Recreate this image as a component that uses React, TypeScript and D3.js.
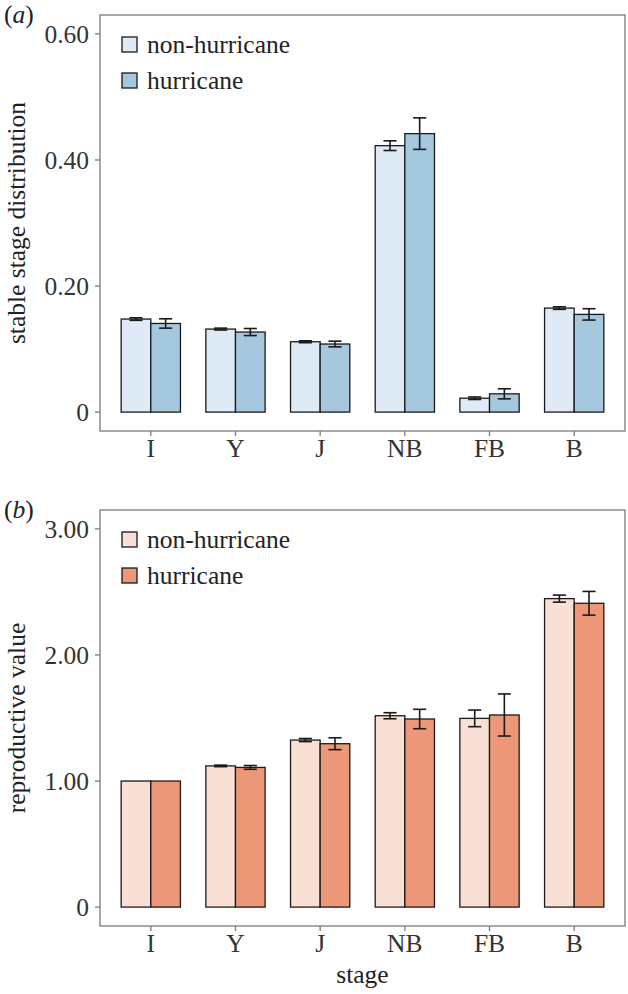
import React from "react";
import * as d3 from "d3";

const stages = ["I", "Y", "J", "NB", "FB", "B"];
const seriesNames = ["non-hurricane", "hurricane"];

const ssdNon = [0.1476, 0.1317, 0.1116, 0.4227, 0.022, 0.165];
const ssdNonErr = [0.002, 0.0015, 0.0015, 0.0077, 0.002, 0.002];
const ssdHur = [0.1406, 0.127, 0.108, 0.4418, 0.029, 0.155];
const ssdHurErr = [0.0074, 0.0056, 0.0045, 0.025, 0.008, 0.009];
const ssdTicks = [0, 0.2, 0.4, 0.6];
const ssdTickLabels = ["0", "0.20", "0.40", "0.60"];

const rvNon = [1.0, 1.12, 1.325, 1.518, 1.497, 2.447];
const rvNonErr = [0, 0.006, 0.012, 0.024, 0.066, 0.028];
const rvHur = [1.0, 1.108, 1.296, 1.492, 1.524, 2.41];
const rvHurErr = [0, 0.015, 0.047, 0.077, 0.167, 0.094];
const rvTicks = [0, 1, 2, 3];
const rvTickLabels = ["0", "1.00", "2.00", "3.00"];

const FONT = "'Liberation Serif', 'Times New Roman', serif";
const FS = 25.5;

type PanelProps = {
  top: number;
  bottom: number;
  max: number;
  ticks: number[];
  tickLabels: string[];
  non: number[];
  nonErr: number[];
  hur: number[];
  hurErr: number[];
  colors: [string, string];
  yTitle: string;
  tag: string;
  xTitle?: string;
};

function Panel(p: PanelProps) {
  const left = 100;
  const right = 625;
  const x = d3.scaleBand<string>().domain(stages).range([left, right]).paddingInner(0).paddingOuter(0.1);
  const y = d3.scaleLinear().domain([-0.05 * p.max, 1.05 * p.max]).range([p.bottom, p.top]);
  const step = x.step();
  const barW = (0.7 * step) / 2;
  const whisk = 0.155 * step;
  const series = [
    { vals: p.non, errs: p.nonErr, color: p.colors[0] },
    { vals: p.hur, errs: p.hurErr, color: p.colors[1] },
  ];
  const frame = "#7a7a7a";
  const midY = (p.top + p.bottom) / 2;
  return (
    <g>
      <text x={4} y={p.top + 8} fontFamily={FONT} fontSize={FS} fill="#222">
        (<tspan fontStyle="italic">{p.tag}</tspan>)
      </text>
      <rect x={left} y={p.top} width={right - left} height={p.bottom - p.top} fill="none" stroke={frame} strokeWidth={1.3} />
      {p.ticks.map((t, i) => (
        <g key={"yt" + i}>
          <line x1={left - 5} x2={left} y1={y(t)} y2={y(t)} stroke={frame} strokeWidth={1.3} />
          <text x={left - 11} y={y(t)} dy="0.34em" textAnchor="end" fontFamily={FONT} fontSize={FS} fill="#333">
            {p.tickLabels[i]}
          </text>
        </g>
      ))}
      {stages.map((s) => {
        const cx = (x(s) as number) + step / 2;
        return (
          <g key={"xt" + s}>
            <line x1={cx} x2={cx} y1={p.bottom} y2={p.bottom + 5} stroke={frame} strokeWidth={1.3} />
            <text x={cx} y={p.bottom + 26} textAnchor="middle" fontFamily={FONT} fontSize={FS} fill="#333">
              {s}
            </text>
          </g>
        );
      })}
      {series.map((ser, si) =>
        stages.map((s, i) => {
          const bx = (x(s) as number) + step / 2 - barW + si * barW;
          const v = ser.vals[i];
          return (
            <rect
              key={"b" + si + s}
              x={bx}
              y={y(v)}
              width={barW}
              height={y(0) - y(v)}
              fill={ser.color}
              stroke="#1a1a1a"
              strokeWidth={1.3}
            />
          );
        })
      )}
      {series.map((ser, si) =>
        stages.map((s, i) => {
          const e = ser.errs[i];
          if (e <= 0) return null;
          const cx = (x(s) as number) + step / 2 - barW + si * barW + barW / 2;
          const v = ser.vals[i];
          const y1 = y(v + e);
          const y2 = y(v - e);
          return (
            <g key={"e" + si + s} stroke="#1a1a1a" strokeWidth={1.6}>
              <line x1={cx} x2={cx} y1={y1} y2={y2} />
              <line x1={cx - whisk / 2} x2={cx + whisk / 2} y1={y1} y2={y1} />
              <line x1={cx - whisk / 2} x2={cx + whisk / 2} y1={y2} y2={y2} />
            </g>
          );
        })
      )}
      {seriesNames.map((n, i) => (
        <g key={"lg" + i}>
          <rect x={122} y={p.top + 22 + i * 36} width={15} height={15} fill={p.colors[i]} stroke="#1a1a1a" strokeWidth={1.3} />
          <text x={147} y={p.top + 29.5 + i * 36} dy="0.34em" fontFamily={FONT} fontSize={FS} fill="#222">
            {n}
          </text>
        </g>
      ))}
      <text
        transform={`translate(25,${midY}) rotate(-90)`}
        textAnchor="middle"
        fontFamily={FONT}
        fontSize={FS}
        fill="#222"
      >
        {p.yTitle}
      </text>
      {p.xTitle ? (
        <text x={(left + right) / 2} y={p.bottom + 57} textAnchor="middle" fontFamily={FONT} fontSize={FS} fill="#222">
          {p.xTitle}
        </text>
      ) : null}
    </g>
  );
}

export default function App() {
  return (
    <svg width={628} height={994} style={{ position: "absolute", left: 0, top: 0, background: "#fff" }}>
      <rect x={0} y={0} width={628} height={994} fill="#fff" />
      <Panel
        top={15}
        bottom={431}
        max={0.6}
        ticks={ssdTicks}
        tickLabels={ssdTickLabels}
        non={ssdNon}
        nonErr={ssdNonErr}
        hur={ssdHur}
        hurErr={ssdHurErr}
        colors={["#deebf6", "#a6c8df"]}
        yTitle="stable stage distribution"
        tag="a"
      />
      <Panel
        top={510}
        bottom={926}
        max={3}
        ticks={rvTicks}
        tickLabels={rvTickLabels}
        non={rvNon}
        nonErr={rvNonErr}
        hur={rvHur}
        hurErr={rvHurErr}
        colors={["#fae0d4", "#ec9778"]}
        yTitle="reproductive value"
        tag="b"
        xTitle="stage"
      />
    </svg>
  );
}
